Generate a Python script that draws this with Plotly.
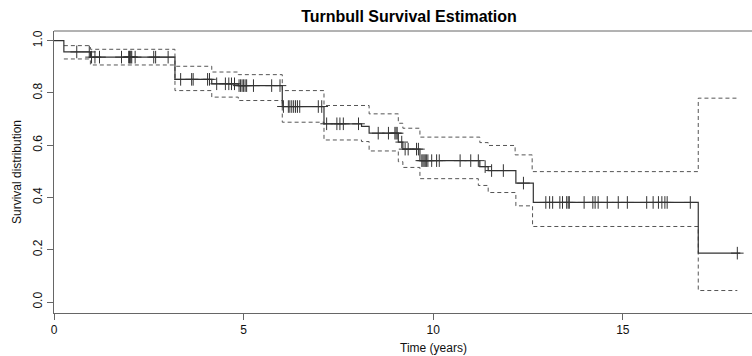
import numpy as np
import plotly.graph_objects as go

# ---- data ----
surv_time = [0, 0.26, 0.96, 3.19, 4.16, 4.86, 6.02, 7.12, 8.11, 8.31, 9.08, 9.20, 9.65,
             11.23, 11.45, 12.18, 12.64, 16.99]
surv_prob = [1.0, 0.957, 0.937, 0.852, 0.835, 0.828, 0.748, 0.682, 0.672, 0.646, 0.612,
             0.585, 0.541, 0.518, 0.503, 0.455, 0.381, 0.187]
surv_end = 18.1

upper_time = [0.26, 0.96, 3.19, 4.16, 4.86, 6.02, 7.12, 8.31, 9.08, 9.20, 9.65, 11.23,
              11.45, 12.16, 12.61, 16.99]
upper_prob = [0.981, 0.967, 0.902, 0.880, 0.870, 0.809, 0.752, 0.720, 0.684, 0.665, 0.631,
              0.610, 0.599, 0.563, 0.499, 0.780]

lower_time = [0.26, 0.96, 3.19, 4.16, 4.86, 6.02, 7.12, 8.11, 8.31, 9.08, 9.20, 9.65,
              11.19, 11.45, 12.18, 12.62, 16.99]
lower_prob = [0.930, 0.907, 0.809, 0.784, 0.771, 0.688, 0.620, 0.614, 0.578, 0.537, 0.515,
              0.472, 0.446, 0.419, 0.368, 0.289, 0.044]
band_end = 18.02

censor_time = [0.60, 0.93, 0.99, 1.08, 1.20, 1.78, 1.97, 1.99, 2.01, 2.03, 2.05, 2.14, 2.63,
               2.68, 3.01, 3.34, 3.63, 3.67, 4.05, 4.10, 4.29, 4.52, 4.61, 4.68, 4.76, 4.88,
               4.92, 4.96, 5.00, 5.04, 5.08, 5.26, 5.74, 5.96, 6.05, 6.18, 6.22, 6.27, 6.32,
               6.37, 6.42, 6.48, 6.97, 7.06, 7.19, 7.46, 7.54, 7.63, 8.03, 8.55, 8.82, 8.99,
               9.02, 9.05, 9.17, 9.26, 9.34, 9.56, 9.61, 9.70, 9.73, 9.76, 9.79, 9.82, 9.86,
               9.96, 10.09, 10.16, 10.71, 10.99, 11.19, 11.37, 11.54, 11.85, 12.38, 12.97,
               13.07, 13.15, 13.34, 13.41, 13.52, 13.56, 13.59, 13.98, 14.21, 14.27, 14.35,
               14.59, 14.88, 15.12, 15.63, 15.80, 15.94, 16.03, 16.11, 16.17, 16.78, 18.02]

x_ticks = [0, 5, 10, 15]
y_ticks = [0.0, 0.2, 0.4, 0.6, 0.8, 1.0]
y_ticklabels = ["0.0", "0.2", "0.4", "0.6", "0.8", "1.0"]

# survival value at each censored time (step function lookup)
idx = np.searchsorted(np.array(surv_time), np.array(censor_time), side="right") - 1
censor_prob = [surv_prob[i] for i in idx]

FONT = "Liberation Sans, Arial, Helvetica, sans-serif"
fig = go.Figure()

dash = dict(color="#555555", width=1, dash="4px,3px")
fig.add_trace(go.Scatter(x=upper_time + [band_end], y=upper_prob + [upper_prob[-1]],
                         mode="lines", line=dict(shape="hv", **dash), showlegend=False,
                         name="upper"))
fig.add_trace(go.Scatter(x=lower_time + [band_end], y=lower_prob + [lower_prob[-1]],
                         mode="lines", line=dict(shape="hv", **dash), showlegend=False,
                         name="lower"))
fig.add_trace(go.Scatter(x=surv_time + [surv_end], y=surv_prob + [surv_prob[-1]],
                         mode="lines", line=dict(shape="hv", color="#333333", width=1.2),
                         showlegend=False, name="survival"))
fig.add_trace(go.Scatter(x=censor_time, y=censor_prob, mode="markers",
                         marker=dict(symbol="cross-thin-open", size=9, color="#333333",
                                     line=dict(color="#333333", width=1)),
                         showlegend=False, name="censored"))

W, H = 752, 356
L, T, B = 54, 31, 43
fig.update_layout(
    width=W, height=H,
    margin=dict(l=L, r=0, t=T, b=B, pad=0, autoexpand=False),
    paper_bgcolor="white", plot_bgcolor="white",
    font=dict(family=FONT, size=12, color="#111111"),
    title=dict(text="<b>Turnbull Survival Estimation</b>", x=409 / W, xref="container",
               xanchor="center", y=1 - 16.5 / H, yref="container", yanchor="middle",
               font=dict(family=FONT, size=16, color="#000000")),
    xaxis=dict(range=[0, (W - L) / 37.92], tickvals=x_ticks, ticks="outside", ticklen=6,
               tickcolor="#666666", showline=True, linecolor="#666666", linewidth=1,
               showgrid=False, zeroline=False, tickfont=dict(size=12), automargin=False),
    yaxis=dict(range=[-0.042, 1.037], tickvals=y_ticks, ticktext=y_ticklabels,
               tickangle=-90, ticks="outside", ticklen=6, tickcolor="#666666",
               showline=True, linecolor="#666666", linewidth=1, showgrid=False,
               zeroline=False, tickfont=dict(size=12), automargin=False),
    shapes=[dict(type="line", xref="paper", yref="paper", x0=0, x1=1, y0=1, y1=1,
                 line=dict(color="#666666", width=1))],
    annotations=[
        dict(text="Time (years)", xref="x", x=10, yref="paper", y=-(348 - 313) / (H - T - B),
             xanchor="center", yanchor="middle", showarrow=False, font=dict(size=12)),
        dict(text="Survival distribution", xref="paper", x=-(54 - 17) / (W - L), yref="paper",
             y=0.5, xanchor="center", yanchor="middle", textangle=-90, showarrow=False,
             font=dict(size=12)),
    ],
)

fig.write_html("out.html", config={"displayModeBar": False},
               post_script="document.body.style.margin='0';document.body.style.overflow='hidden';")
